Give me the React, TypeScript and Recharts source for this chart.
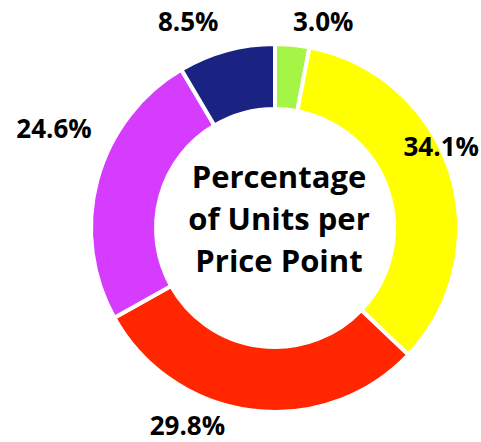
import { Cell, Label, Pie, PieChart } from "recharts";

const priceBands = ["Band A", "Band B", "Band C", "Band D", "Band E"];
const unitShares = [3.0, 34.1, 29.8, 24.6, 8.5];
const sliceColors = ["#a4f545", "#ffff00", "#ff2600", "#d63cfd", "#1a2382"];
const centerLines = ["Percentage", "of Units per", "Price Point"];

const chartData = priceBands.map((name, i) => ({ name, value: unitShares[i] }));

const CX = 275;
const CY = 228;

// hand placement of the outside labels, like the original
const labelNudge = [
  [29, -4],
  [-28, -20],
  [-62, -5],
  [-24, -47],
  [-33, -10],
];

const FONT = "'Open Sans', sans-serif";

function renderLabel(props: any) {
  const { x, y, index, value } = props;
  const [dx, dy] = labelNudge[index] ?? [0, 0];
  return (
    <text
      x={x + dx}
      y={y + dy}
      textAnchor="middle"
      dominantBaseline="central"
      fill="#000"
      fontFamily={FONT}
      fontWeight={700}
      fontSize={26}
    >
      {`${Number(value).toFixed(1)}%`}
    </text>
  );
}

function CenterTitle() {
  return (
    <text textAnchor="middle" fill="#000" fontFamily={FONT} fontWeight={700} fontSize={31}>
      {centerLines.map((line, i) => (
        <tspan key={line} x={CX + 4} y={CY - 40 + i * 42}>
          {line}
        </tspan>
      ))}
    </text>
  );
}

export default function App() {
  return (
    <div style={{ position: "absolute", left: 0, top: 0, width: 481, height: 442, background: "#fff" }}>
      <PieChart width={481} height={442} margin={{ top: 0, right: 0, bottom: 0, left: 0 }}>
        <Pie
          data={chartData}
          dataKey="value"
          nameKey="name"
          cx={CX}
          cy={CY}
          innerRadius={119}
          outerRadius={184}
          startAngle={90}
          endAngle={-270}
          stroke="#fff"
          strokeWidth={4}
          label={renderLabel}
          labelLine={false}
          isAnimationActive={false}
        >
          {chartData.map((d, i) => (
            <Cell key={d.name} fill={sliceColors[i]} />
          ))}
          <Label position="center" content={CenterTitle} />
        </Pie>
      </PieChart>
    </div>
  );
}
